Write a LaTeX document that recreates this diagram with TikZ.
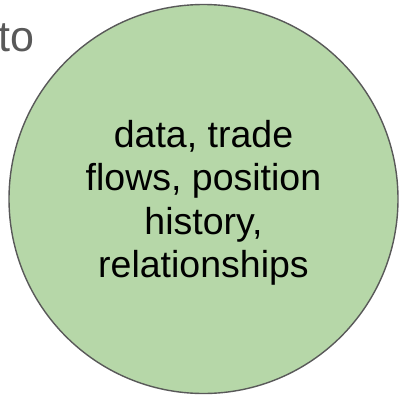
\documentclass[tikz,border=0pt]{standalone}
\usepackage{fontspec}
\setmainfont{Liberation Sans}
\usetikzlibrary{shapes,backgrounds}
\definecolor{bubblegreen}{HTML}{B6D7A8}
\definecolor{edgegray}{HTML}{595959}
\tikzset{
    bubble/.style={circle,fill=bubblegreen,draw=edgegray,line width=1.4pt,
        minimum size=389pt,inner sep=0pt,align=center,text depth=0pt,
        font=\fontsize{37.5}{43.3}\selectfont},
    loose/.style={inner sep=0pt,text=edgegray,font=\fontsize{43}{50}\selectfont}
}

\begin{document}
\begin{tikzpicture}[x=1pt,y=-1pt]
        \useasboundingbox (0,0) rectangle (399,399);
        \node[bubble] (hub) at (203.5,199) {data, trade\\flows, position\\history,\\relationships};
        \node[loose,anchor=base east] (to) at (35,51.5) {to};
    \end{tikzpicture}
\end{document}
